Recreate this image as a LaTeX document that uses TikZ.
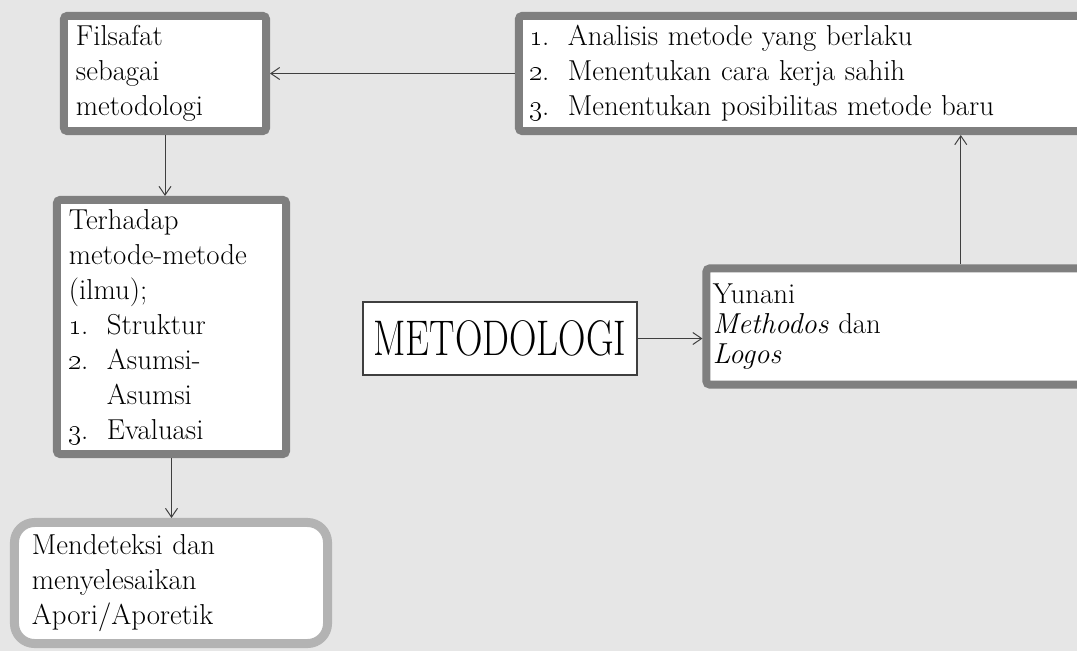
\RequirePackage{fix-cm}
\documentclass[tikz,border=0pt]{standalone}
\usepackage{graphicx}
\usetikzlibrary{arrows.meta, positioning, calc}

\definecolor{kelabu}{HTML}{7F7F7F}
\definecolor{kelabumuda}{HTML}{B3B3B3}
\definecolor{garis}{HTML}{3F3F3F}
\definecolor{latar}{HTML}{E6E6E6}

\newcommand{\butir}[2]{\makebox[0.95cm][l]{\oldstylenums{#1}\kern-0.05em.}#2}
\newcommand{\teksbiasa}{\fontsize{20.5pt}{24.9pt}\selectfont}

\tikzset{
  kotak/.style={draw=kelabu, line width=0.2cm, rounded corners=0.08cm, fill=white, inner sep=0pt, align=left, font=\teksbiasa},
  panah/.style={draw=garis, line width=0.7pt, -{Straight Barb[length=0.22cm, width=0.3cm]}}
}

\begin{document}
\begin{tikzpicture}[x=0.025cm, y=-0.025cm]
  \fill[latar] (0,0) rectangle (1077,651);
  \useasboundingbox (0,0) rectangle (1077,651);

  \node[kotak, minimum width=5.05cm, minimum height=2.875cm, text width=4.45cm] (filsafat) at (165,73.5) {Filsafat\\ sebagai\\ metodologi};
  \node[kotak, minimum width=14.15cm, minimum height=2.875cm, text width=13.6cm] (analisis) at (802,73.5) {\butir{1}{Analisis metode yang berlaku}\\ \butir{2}{Menentukan cara kerja sahih}\\ \butir{3}{Menentukan posibilitas metode baru}};
  \node[kotak, minimum width=5.725cm, minimum height=6.35cm, text width=5.125cm] (terhadap) at (171.5,327) {Terhadap\\ metode-metode\\ (ilmu);\\ \butir{1}{Struktur}\\ \butir{2}{Asumsi-}\\ \hspace*{0.95cm}Asumsi\\ \butir{3}{Evaluasi}};
  \node[kotak, draw=kelabumuda, line width=0.225cm, rounded corners=0.5cm, minimum width=7.825cm, minimum height=3.025cm, text width=6.95cm] (mendeteksi) at (171,583) {Mendeteksi dan\\ menyelesaikan\\ Apori/Aporetik};
  \node[draw=garis, line width=0.05cm, fill=white, minimum width=6.85cm, minimum height=1.825cm, inner sep=0pt, font=\fontsize{35.6pt}{40pt}\selectfont] (metodologi) at (500,338.5) {\scalebox{0.76}[1]{METODOLOGI}};
  \node[kotak, minimum width=9.4625cm, minimum height=2.9cm, text width=9.1375cm, font=\fontsize{20.5pt}{21.3pt}\selectfont] (yunani) at (895.75,326.5) {Yunani\\ \textit{Methodos} dan\\ \textit{Logos}};

  \draw[panah] (analisis.west) -- (filsafat.east);
  \draw[panah] (filsafat.south) -- (filsafat.south |- terhadap.north);
  \draw[panah] (terhadap.south) -- (terhadap.south |- mendeteksi.north);
  \draw[panah] (metodologi.east) -- (metodologi.east -| yunani.west);
  \draw[panah] ([xshift=1.625cm]yunani.north) -- ([xshift=1.625cm]yunani.north |- analisis.south);
\end{tikzpicture}
\end{document}
